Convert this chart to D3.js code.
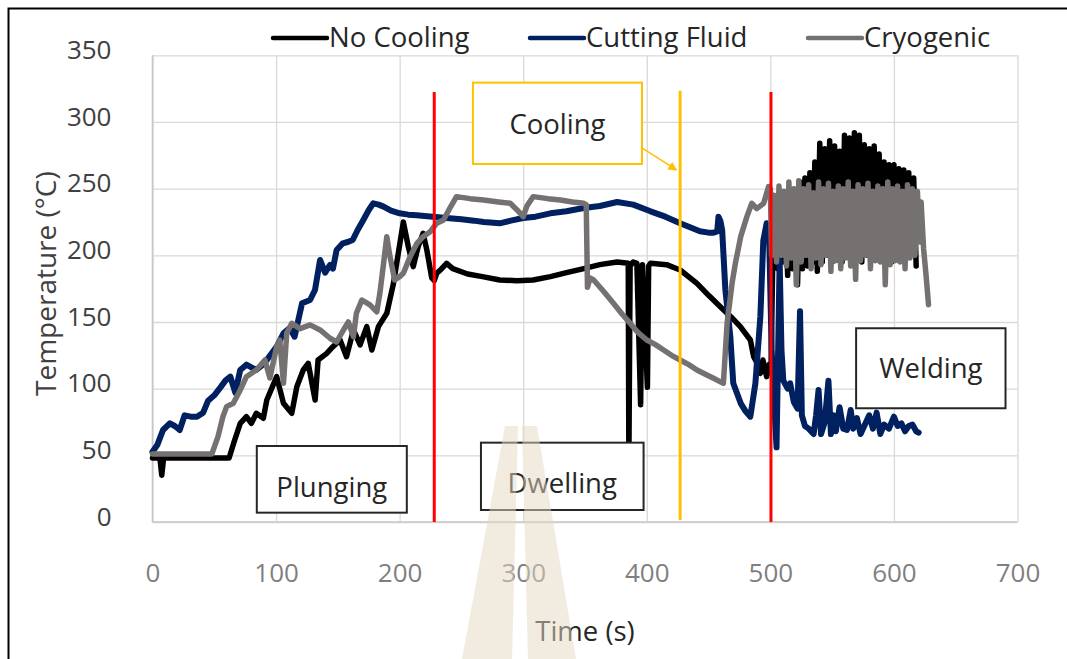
<!DOCTYPE html>
<html>
<head>
<meta charset="utf-8">
<script src="https://cdn.jsdelivr.net/npm/d3@7/dist/d3.min.js"></script>
<style>
  html, body { margin: 0; padding: 0; background: #fff; }
  svg { display: block; font-family: "Open Sans", "Noto Sans", sans-serif; }
</style>
</head>
<body>
<svg id="chart" width="1067" height="659"></svg>
<script>
// Axis ticks
const timeTicks = [0, 100, 200, 300, 400, 500, 600, 700];
const tempTicks = [0, 50, 100, 150, 200, 250, 300, 350];

// Legend entries
const seriesNames = ["No Cooling", "Cutting Fluid", "Cryogenic"];

// Process boundaries (s)
const phaseLines = [228, 500.5];
const coolingStart = 427;

// Temperature records [time (s), temperature (°C)]
const noCooling = [
  [0,48],[6,48],[7.5,35],[9,48],[62,48],[66,60],[71,74],[76,79],[80,74],[84,81.5],[89.7,77.8],
  [92.5,91.5],[100.5,109],[106,89],[112.7,81.5],[116.8,101.5],[122,114],[126,119],[131.6,91.5],
  [134,121.5],[141,126.5],[146,131.5],[151.8,136.5],[157,124],[162.6,144],[168,132.8],[173.4,146.5],
  [177.5,129],[182.8,146.5],[189.6,156.5],[195,179],[203,225],[207,206.5],[211,191.5],[215,206.5],
  [219,216.5],[222,204],[226,183],[228,181],[230,186.5],[234,190],[238,194],[243,190],[255,186],
  [267,184],[281,181.5],[295,181],[308,181.5],[322,184],[335,187],[349,190],[362,193],[376,195],
  [385,194],[385.5,45],[386.5,192],[389,195],[392,194],[395,88],[396.5,193],[400.5,101],[401.5,192],
  [403,194],[416,193],[427,189],[440.6,179],[450,170],[459.5,161.5],[468,154],[475.7,146.5],
  [483.8,136.5],[486.5,124],[490,118],[492,111.5],[494,121.5],[497,109],[499,118],[500.5,112],
  [502,200],[504,240],[506,190],[508,238],[510,195],[512,245],[514,185],[516,242],[518,190],
  [520,248],[522,178],[524,255],[526,190],[528,258],[530,192],[532,262],[534,195],[536,270],
  [538,188],[540,284],[542,195],[544,280],[546,200],[548,286],[550,195],[552,282],[554,198],
  [556,278],[558,195],[560,290],[562,200],[564,288],[566,198],[568,292],[570,200],[572,290],
  [574,195],[576,283],[578,200],[580,280],[582,196],[584,282],[586,200],[588,276],[590,198],
  [592,270],[594,200],[596,268],[598,195],[600,268],[602,200],[604,265],[606,198],[608,264],
  [610,200],[612,262],[614,205],[616,258],[618,192]
];

const cuttingFluid = [
  [0,52.7],[4,58],[8.5,69],[14,74],[18,72],[22,69],[26,80],[31,79],[36,79],[41,82],[45,91],
  [50,95],[55,101],[59,106],[63,109],[67,97],[71,114],[76,118],[80,116],[84,114],[88,117],
  [92.5,121.5],[96,126],[100.5,131.5],[106,141.5],[111,145.5],[115,139],[121,164],[127.5,166.5],
  [131.5,174],[135.6,196.5],[139.7,187],[143.7,192.8],[146,190],[149,204],[154,209],[158,210],
  [162,211.5],[166,219],[170.6,226.5],[175,234],[178.7,239],[183,238],[187,236.5],[193,233.5],
  [200,231.5],[207,230.5],[214,230],[220,229.5],[227,229],[238,228],[250,227],[260,226],
  [268,225],[281,224],[290,226],[300,228],[310,229],[322,231.5],[335,233],[349,235.5],
  [362,237],[376,240],[389,238],[403,233],[415,229],[427,224],[435,221],[443,218],[450,217],
  [454,217],[457,218],[458,229],[459.5,226],[461,219],[463.6,174],[467.6,139],[470,104],
  [476,89],[480,83],[483.8,79],[487.9,104],[491.9,154],[494.3,211],[497,224],[499,215],
  [501,130],[503,90],[505,56],[507.5,196],[509,129],[510.5,106],[514,100],[516,104],[519,90],
  [522,85],[524,158],[525.5,80],[528,72],[531,70],[535,66],[537,80],[539,99],[541,66],[544,75],
  [547,106],[549,66],[551,80],[553,68],[556,86],[559,70],[562,69],[565,84],[567,70],[570,78],
  [573,66],[576,72],[580,80],[583,70],[586,82],[589,66],[592,73],[596,70],[600,79],[603,72],
  [606,74],[609,68],[612,72],[615,73],[618,68],[620,67]
];

const cryogenic = [
  [0,51],[20,51],[48,51],[53,64],[57,79],[60,86.5],[65.4,89],[71,99],[76,109],[84,114],
  [91,121.5],[95,108],[100.5,131.5],[103,136.5],[106,104],[108.6,141.5],[112.7,149],
  [119.4,145],[127.5,147.8],[135.6,144],[143.7,137.8],[149,135],[154.5,144],[158.5,150],
  [162.6,139],[165,156.5],[169.4,166.5],[176,162.8],[181.5,157.7],[184,171.5],[187,194],
  [189.6,214],[192,200],[196,181.5],[200,184],[203,186.5],[208.5,199],[214,209],[219,214],
  [224.7,217.7],[230,224],[235.5,226.5],[241,236],[246,244],[257,242.5],[268,241.5],
  [280,240],[289.5,239],[295,234],[300,229],[303,237],[308,244],[320,242.5],[330,241.5],
  [340,240],[349,239],[351,238],[352,176],[354,183],[357,181.5],[365,173],[373,164],
  [380,156],[386.6,149],[393,142],[400,136.5],[407,133],[413.6,129],[420,125],[427,121.5],
  [434,118],[440.6,114],[447,111],[454,107.8],[462,104],[465,149],[469,179],[471.7,194],
  [476,214],[481,229],[485,239],[489,235],[494.6,239],[498.5,251.5],
  [500,250],[501,200],[503,245],[505,195],[507,252],[509,200],[511,248],[513,192],[515,255],
  [517,198],[519,250],[521,178],[523,256],[525,195],[527,250],[529,200],[531,253],[533,190],
  [535,247],[537,198],[539,255],[541,193],[543,250],[545,200],[547,254],[549,188],[551,248],
  [553,196],[555,252],[557,190],[559,250],[561,198],[563,255],[565,192],[567,248],[569,182],
  [571,253],[573,196],[575,250],[577,200],[579,254],[581,190],[583,248],[585,196],[587,252],
  [589,195],[591,250],[593,178],[595,255],[597,193],[599,250],[601,196],[603,252],[605,195],
  [607,248],[609,190],[611,253],[613,198],[615,250],[617,200],[619,248],[621,210],[622,240],
  [624,205],[626,185],[628,163]
];

const svg = d3.select("#chart");

const x = d3.scaleLinear().domain([0, 700]).range([152.5, 1017.5]);
const y = d3.scaleLinear().domain([0, 350]).range([522, 55.3]);

// Outer frame
svg.append("rect")
  .attr("x", 8.5).attr("y", 8.5)
  .attr("width", 1100).attr("height", 700)
  .attr("fill", "#fff").attr("stroke", "#000").attr("stroke-width", 2);

// Gridlines
const gridY = svg.append("g").attr("transform", `translate(${x(0)},0)`)
  .call(d3.axisLeft(y).tickValues(tempTicks).tickSize(-(x(700) - x(0))).tickFormat(""));
gridY.select(".domain").remove();
gridY.selectAll("line").attr("stroke", "#d9d9d9").attr("stroke-width", 1.3);

const gridX = svg.append("g").attr("transform", `translate(0,${y(0)})`)
  .call(d3.axisBottom(x).tickValues(timeTicks).tickSize(-(y(0) - y(350))).tickFormat(""));
gridX.select(".domain").remove();
gridX.selectAll("line").attr("stroke", "#d9d9d9").attr("stroke-width", 1.3);

// Axis lines
svg.append("line").attr("x1", x(0)).attr("x2", x(0)).attr("y1", y(350)).attr("y2", y(0))
  .attr("stroke", "#c8c8c8").attr("stroke-width", 1.6);
svg.append("line").attr("x1", x(0)).attr("x2", x(700)).attr("y1", y(0)).attr("y2", y(0))
  .attr("stroke", "#c8c8c8").attr("stroke-width", 1.6);

// Tick labels
const yAxis = svg.append("g").attr("transform", `translate(${x(0) - 41},0)`)
  .call(d3.axisLeft(y).tickValues(tempTicks).tickSize(0).tickPadding(0));
yAxis.select(".domain").remove();
yAxis.selectAll("text")
  .attr("font-family", "Open Sans, sans-serif").attr("font-size", 26)
  .attr("fill", "#404040").attr("dy", "0.12em");

const xAxis = svg.append("g").attr("transform", `translate(0,${y(0) + 42})`)
  .call(d3.axisBottom(x).tickValues(timeTicks).tickSize(0).tickPadding(0));
xAxis.select(".domain").remove();
xAxis.selectAll("text")
  .attr("font-family", "Open Sans, sans-serif").attr("font-size", 26)
  .attr("fill", "#7f7f7f");

// Axis titles
svg.append("text")
  .attr("transform", `translate(56,${(y(0) + y(350)) / 2 - 5}) rotate(-90)`)
  .attr("text-anchor", "middle")
  .attr("font-size", 28).attr("fill", "#404040")
  .text("Temperature (°C)");

svg.append("text")
  .attr("x", 585).attr("y", 641)
  .attr("text-anchor", "middle")
  .attr("font-size", 27.5).attr("fill", "#262626")
  .text("Time (s)");

// Series
const colors = { "No Cooling": "#000000", "Cutting Fluid": "#002060", "Cryogenic": "#767171" };
const lineGen = d3.line().x(d => x(d[0])).y(d => y(d[1]));

[[noCooling, "No Cooling", 5.5], [cuttingFluid, "Cutting Fluid", 6], [cryogenic, "Cryogenic", 5.5]]
  .forEach(([data, name, w]) => {
    svg.append("path")
      .datum(data)
      .attr("d", lineGen)
      .attr("fill", "none")
      .attr("stroke", colors[name])
      .attr("stroke-width", w)
      .attr("stroke-linejoin", "round")
      .attr("stroke-linecap", "round");
  });

// Phase boundary lines
phaseLines.forEach(t => {
  svg.append("line")
    .attr("x1", x(t)).attr("x2", x(t))
    .attr("y1", y(322.5)).attr("y2", y(0))
    .attr("stroke", "#ff0000").attr("stroke-width", 3);
});
svg.append("line")
  .attr("x1", x(coolingStart)).attr("x2", x(coolingStart))
  .attr("y1", y(323.5)).attr("y2", y(1.5))
  .attr("stroke", "#ffc000").attr("stroke-width", 3);

// Phase labels
function labelBox(t0, t1, v0, v1, text, stroke, shift) {
  const g = svg.append("g");
  g.append("rect")
    .attr("x", x(t0)).attr("y", y(v1))
    .attr("width", x(t1) - x(t0)).attr("height", y(v0) - y(v1))
    .attr("fill", "#fff").attr("stroke", stroke).attr("stroke-width", 2);
  g.append("text")
    .attr("x", (x(t0) + x(t1)) / 2).attr("y", (y(v0) + y(v1)) / 2 + 10 + shift)
    .attr("text-anchor", "middle")
    .attr("font-size", 27.5).attr("fill", "#262626")
    .text(text);
}
labelBox(84.4, 205.8, 7, 57, "Plunging", "#262626", 8);
labelBox(265.8, 397.4, 9, 59.5, "Dwelling", "#262626", 7);
labelBox(569.4, 690.3, 85.3, 145.3, "Welding", "#262626", 0);
labelBox(259.3, 396.1, 268.5, 329.5, "Cooling", "#ffc000", 1);

// Arrow from the cooling label to the cooling line
svg.append("defs").append("marker")
  .attr("id", "arrowHead").attr("viewBox", "0 0 10 10")
  .attr("refX", 9).attr("refY", 5)
  .attr("markerWidth", 6).attr("markerHeight", 6)
  .attr("orient", "auto")
  .append("path").attr("d", "M0,0 L10,5 L0,10 Z").attr("fill", "#ffc000");
svg.append("line")
  .attr("x1", x(396.1)).attr("y1", y(280.5))
  .attr("x2", x(424)).attr("y2", y(264))
  .attr("stroke", "#ffc000").attr("stroke-width", 1.5)
  .attr("marker-end", "url(#arrowHead)");

// Legend
const legendX = [273, 530, 808];
seriesNames.forEach((name, i) => {
  svg.append("line")
    .attr("x1", legendX[i]).attr("x2", legendX[i] + 54)
    .attr("y1", 38).attr("y2", 38)
    .attr("stroke", colors[name]).attr("stroke-width", 4.5)
    .attr("stroke-linecap", "round");
  svg.append("text")
    .attr("x", legendX[i] + 56).attr("y", 47)
    .attr("font-size", 27.5).attr("fill", "#262626")
    .text(name);
});

// Watermark
const wm = svg.append("g").attr("fill", "#e6d9c2").attr("opacity", 0.5);
wm.append("path").attr("d", "M505,426 L518,426 L512,659 L462,659 Z");
wm.append("path").attr("d", "M522,426 L537,426 L576,659 L528,659 Z");
</script>
</body>
</html>
